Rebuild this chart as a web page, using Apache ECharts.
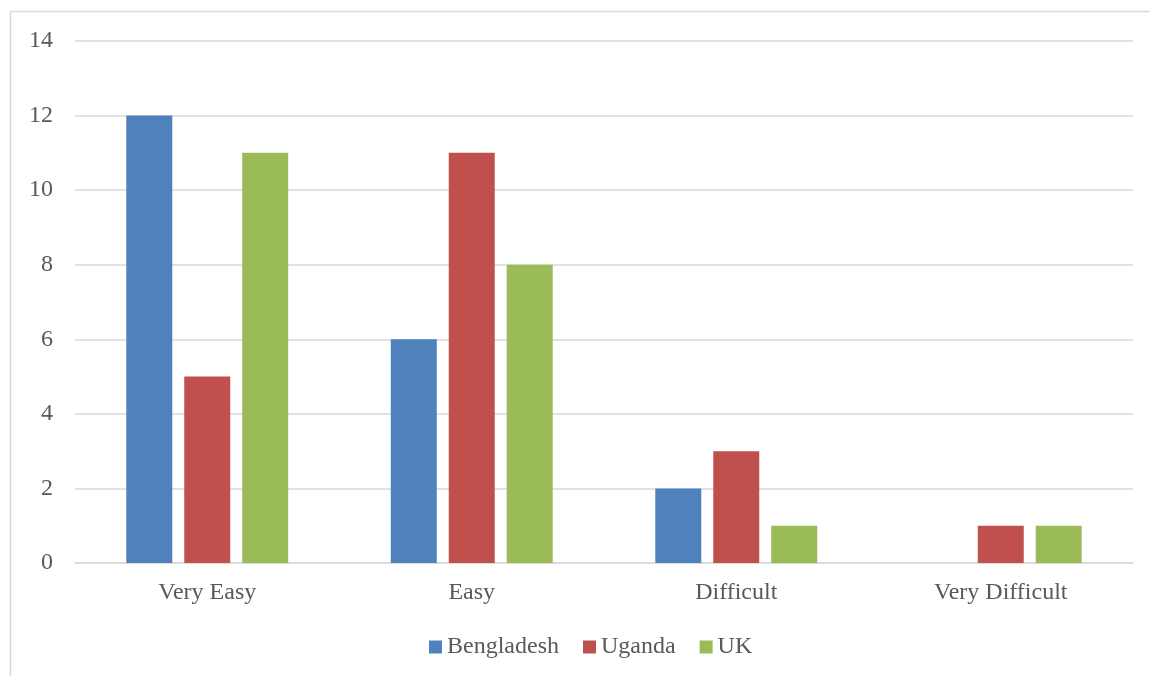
<!DOCTYPE html>
<html><head><meta charset="utf-8">
<script src="https://cdn.jsdelivr.net/npm/echarts@6/dist/echarts.min.js"></script>
<style>html,body{margin:0;padding:0;background:#fff}#c{width:1150px;height:676px}</style>
</head><body><div id="c"></div>
<script>
const categories = ['Very Easy', 'Easy', 'Difficult', 'Very Difficult'];
const bangladesh = [12, 6, 2, 0];
const uganda = [5, 11, 3, 1];
const uk = [11, 8, 1, 1];
const seriesNames = ['Bengladesh', 'Uganda', 'UK'];
const yTicks = [0, 2, 4, 6, 8, 10, 12, 14];

const font = 'Liberation Serif';
const txt = '#595959';
const chart = echarts.init(document.getElementById('c'), null, {renderer: 'canvas'});
const mk = (name, data, color) => ({
  name, type: 'bar', data, barWidth: 46, barGap: '26%',
  itemStyle: {color}, animation: false
});
chart.setOption({
  animation: false,
  graphic: [{type: 'rect', shape: {x: 10.5, y: 11.5, width: 1200, height: 700},
    style: {fill: 'none', stroke: '#d9d9d9', lineWidth: 1.5}, silent: true}],
  grid: {left: 75, right: 17, top: 41, bottom: 113, containLabel: false},
  legend: {
    top: 630, left: 424, itemWidth: 13, itemHeight: 13, itemGap: 24,
    icon: 'rect',
    textStyle: {fontFamily: font, fontSize: 24, color: txt},
    data: seriesNames
  },
  xAxis: {
    type: 'category', data: categories,
    axisLine: {lineStyle: {color: '#d9d9d9', width: 1.5}},
    axisTick: {show: false},
    axisLabel: {fontFamily: font, fontSize: 24, color: txt, margin: 18}
  },
  yAxis: {
    type: 'value', min: yTicks[0], max: yTicks[yTicks.length - 1], interval: 2,
    axisLine: {show: false}, axisTick: {show: false},
    splitLine: {lineStyle: {color: '#d9d9d9', width: 1.5}},
    axisLabel: {fontFamily: font, fontSize: 24, color: txt, margin: 22}
  },
  series: [
    mk(seriesNames[0], bangladesh, '#4F81BD'),
    mk(seriesNames[1], uganda, '#C0504D'),
    mk(seriesNames[2], uk, '#9BBB59')
  ]
});
</script></body></html>
